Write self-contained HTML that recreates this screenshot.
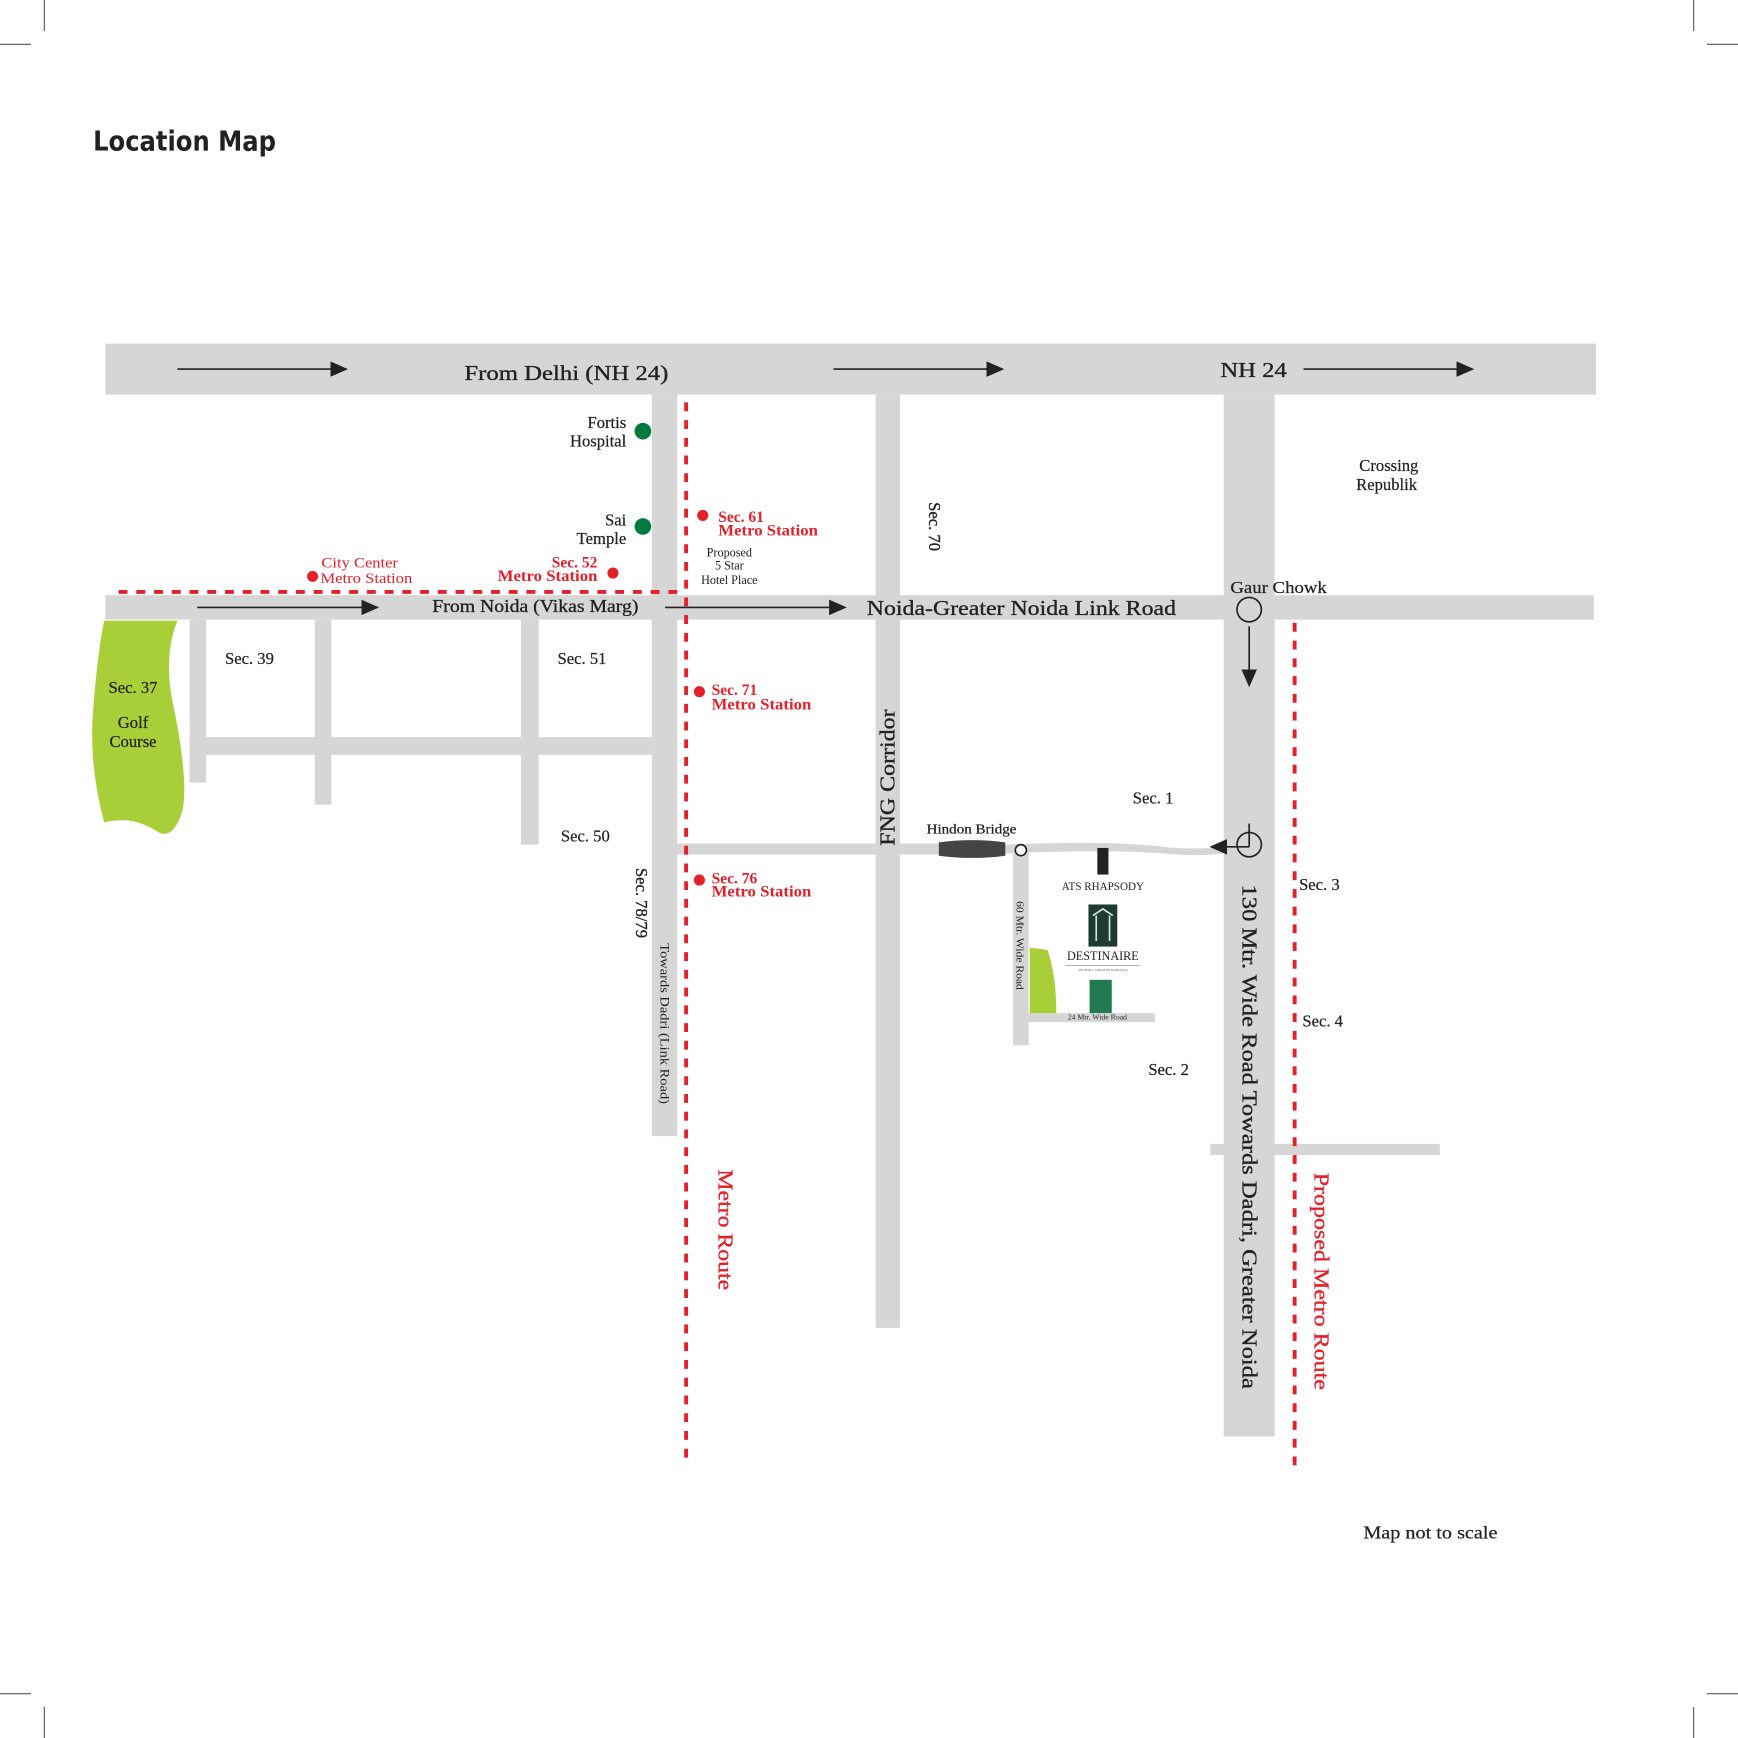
<!DOCTYPE html>
<html><head><meta charset="utf-8"><style>html,body{margin:0;padding:0;background:#fff}svg{display:block}</style></head>
<body>
<svg width="1738" height="1738" viewBox="0 0 1568 1568" xmlns="http://www.w3.org/2000/svg" font-family="'Liberation Serif', serif">
<defs><marker id="ah" markerWidth="16" markerHeight="14" refX="14" refY="7" orient="auto" markerUnits="userSpaceOnUse"><path d="M0,0 L16,7 L0,14 Z" fill="#222"/></marker></defs>
<g stroke="#555" stroke-width="1">
<line x1="40" y1="0" x2="40" y2="28"/><line x1="0" y1="40" x2="28" y2="40"/>
<line x1="1528" y1="0" x2="1528" y2="28"/><line x1="1540" y1="40" x2="1568" y2="40"/>
<line x1="40" y1="1540" x2="40" y2="1568"/><line x1="0" y1="1528" x2="28" y2="1528"/>
<line x1="1528" y1="1540" x2="1528" y2="1568"/><line x1="1540" y1="1528" x2="1568" y2="1528"/>
</g>
<text x="84" y="136" font-family="'DejaVu Sans','Liberation Sans',sans-serif" font-weight="bold" font-size="25" fill="#222" textLength="165" lengthAdjust="spacingAndGlyphs">Location Map</text>
<g fill="#d6d6d6">
<rect x="95" y="310" width="1345" height="46"/>
<rect x="95" y="537" width="1343" height="22"/>
<rect x="588" y="356" width="23" height="669"/>
<rect x="790" y="356" width="22" height="842"/>
<rect x="1104" y="356" width="46" height="940"/>
<rect x="171" y="559" width="15" height="147"/>
<rect x="284" y="559" width="15" height="167"/>
<rect x="470" y="559" width="16" height="203"/>
<rect x="171" y="665" width="417" height="16"/>
<rect x="611" y="761" width="236" height="10"/>
<rect x="914" y="767" width="14" height="176"/>
<rect x="928" y="914" width="114" height="8"/>
<rect x="1092" y="1032" width="207" height="10"/>
</g>
<path d="M907,762 Q1000,758 1050,764 Q1080,767 1104,764 L1104,770 Q1080,773 1050,770 Q1000,766 907,770 Z" fill="#d6d6d6"/>
<path d="M847,760 Q877,756 907,760 L907,772 Q877,776 847,772 Z" fill="#444"/>
<circle cx="921" cy="767" r="5" fill="#fff" stroke="#222" stroke-width="1.5"/>
<path d="M94,560 L160,560 Q148,590 155,630 Q170,700 165,730 Q158,755 145,752 Q130,742 115,740 Q100,740 94,742 Q80,690 84,640 Q88,590 94,560 Z" fill="#a9cf38"/>
<path d="M929,855 L945,857 Q953,880 953,914 L929,914 Z" fill="#a9cf38"/>
<g stroke="#e5202a" stroke-width="3.5" stroke-dasharray="8,8" fill="none">
<line x1="107" y1="534" x2="619" y2="534"/>
<line x1="619" y1="363" x2="619" y2="1322"/>
<line x1="1168" y1="562" x2="1168" y2="1322"/>
</g>
<g stroke="#222" stroke-width="1.5" marker-end="url(#ah)">
<line x1="160" y1="333" x2="312" y2="333"/>
<line x1="752" y1="333" x2="904" y2="333"/>
<line x1="1176" y1="333" x2="1328" y2="333"/>
<line x1="178" y1="548" x2="340" y2="548"/>
<line x1="600" y1="548" x2="762" y2="548"/>
<line x1="1127" y1="565" x2="1127" y2="618"/>
<line x1="1127" y1="764" x2="1093" y2="764"/>
</g>
<circle cx="1127" cy="550" r="11" fill="none" stroke="#222" stroke-width="1.5"/>
<circle cx="1127" cy="762" r="11" fill="none" stroke="#222" stroke-width="1.5"/>
<line x1="1127" y1="743" x2="1127" y2="764" stroke="#222" stroke-width="1.5"/>
<g fill="#007a3d"><circle cx="580" cy="389" r="7.5"/><circle cx="580" cy="475" r="7.5"/></g>
<g fill="#e5202a"><circle cx="282" cy="520" r="5"/><circle cx="553" cy="517" r="5"/><circle cx="634" cy="465" r="5"/><circle cx="631" cy="624" r="5"/><circle cx="631" cy="794" r="5"/></g>
<g fill="#222" font-size="19" stroke="#222" stroke-width="0.3">
<text x="419" y="343" textLength="184" lengthAdjust="spacingAndGlyphs">From Delhi (NH 24)</text>
<text x="1101" y="340" textLength="60" lengthAdjust="spacingAndGlyphs">NH 24</text>
<text x="390" y="552" font-size="16" textLength="186" lengthAdjust="spacingAndGlyphs">From Noida (Vikas Marg)</text>
<text x="782" y="555" textLength="279" lengthAdjust="spacingAndGlyphs">Noida-Greater Noida Link Road</text>
</g>
<g fill="#222" font-size="15" stroke="#222" stroke-width="0.2">
<text x="565" y="386" text-anchor="end">Fortis</text><text x="565" y="403" text-anchor="end">Hospital</text>
<text x="565" y="474" text-anchor="end">Sai</text><text x="565" y="491" text-anchor="end">Temple</text>
<text x="1253" y="425" text-anchor="middle">Crossing</text><text x="1251" y="442" text-anchor="middle">Republik</text>
<text x="1110" y="535" textLength="87" lengthAdjust="spacingAndGlyphs">Gaur Chowk</text>
<text x="203" y="599">Sec. 39</text>
<text x="503" y="599">Sec. 51</text>
<text x="506" y="759">Sec. 50</text>
<text x="120" y="625" text-anchor="middle">Sec. 37</text>
<text x="120" y="657" text-anchor="middle">Golf</text>
<text x="120" y="674" text-anchor="middle">Course</text>
<text x="1022" y="725">Sec. 1</text>
<text x="1036" y="970">Sec. 2</text>
<text x="1172" y="803">Sec. 3</text>
<text x="1175" y="926">Sec. 4</text>
<text x="1230" y="1388" font-size="16" textLength="121" lengthAdjust="spacingAndGlyphs">Map not to scale</text>
<text x="836" y="752" font-size="12" textLength="81" lengthAdjust="spacingAndGlyphs">Hindon Bridge</text>
</g>
<g fill="#222" font-size="11" text-anchor="middle">
<text x="658" y="502">Proposed</text><text x="658" y="514">5 Star</text><text x="658" y="527">Hotel Place</text>
</g>
<g fill="#e5202a" font-size="14" font-weight="bold">
<text x="648" y="471">Sec. 61</text><text x="648" y="483" textLength="90" lengthAdjust="spacingAndGlyphs">Metro Station</text>
<text x="642" y="627">Sec. 71</text><text x="642" y="640" textLength="90" lengthAdjust="spacingAndGlyphs">Metro Station</text>
<text x="642" y="797">Sec. 76</text><text x="642" y="809" textLength="90" lengthAdjust="spacingAndGlyphs">Metro Station</text>
<text x="539" y="512" text-anchor="end">Sec. 52</text><text x="449" y="524" textLength="90" lengthAdjust="spacingAndGlyphs">Metro Station</text>
</g>
<g fill="#e5202a" font-size="13">
<text x="290" y="512" textLength="69" lengthAdjust="spacingAndGlyphs">City Center</text><text x="289" y="526" textLength="83" lengthAdjust="spacingAndGlyphs">Metro Station</text>
</g>
<g fill="#222" stroke="#222" stroke-width="0.3">
<text transform="translate(838,453) rotate(90)" font-size="15">Sec. 70</text>
<text transform="translate(807,763) rotate(-90)" font-size="19" textLength="123" lengthAdjust="spacingAndGlyphs">FNG Corridor</text>
<text transform="translate(574,783) rotate(90)" font-size="15">Sec. 78/79</text>
<text transform="translate(596,851) rotate(90)" font-size="11" stroke-width="0" textLength="145" lengthAdjust="spacingAndGlyphs">Towards Dadri (Link Road)</text>
<text transform="translate(917,813) rotate(90)" font-size="9" stroke-width="0" textLength="80" lengthAdjust="spacingAndGlyphs">60 Mtr. Wide Road</text>
<text transform="translate(1121,798) rotate(90)" font-size="19" textLength="455" lengthAdjust="spacingAndGlyphs">130 Mtr. Wide Road   Towards Dadri, Greater Noida</text>
<text x="990" y="920" font-size="7" stroke-width="0" text-anchor="middle">24 Mtr. Wide Road</text>
</g>
<g fill="#e5202a" font-size="19" stroke="#e5202a" stroke-width="0.3">
<text transform="translate(648,1055) rotate(90)" textLength="109" lengthAdjust="spacingAndGlyphs">Metro Route</text>
<text transform="translate(1186,1058) rotate(90)" textLength="196" lengthAdjust="spacingAndGlyphs">Proposed Metro Route</text>
</g>
<rect x="990" y="765" width="10" height="24" fill="#222"/>
<text x="995" y="803" font-size="10" text-anchor="middle" fill="#222">ATS RHAPSODY</text>
<rect x="982" y="816" width="26" height="38" fill="#1d3b33"/>
<path d="M986,826 L995,820 L1004,826 M989,826 L989,849 M1001,826 L1001,849" stroke="#cfe8d8" stroke-width="1.5" fill="none"/>
<text x="995" y="866" font-size="11" text-anchor="middle" fill="#222">DESTINAIRE</text>
<line x1="961" y1="871" x2="1029" y2="871" stroke="#888" stroke-width="0.5"/>
<text x="995" y="876" font-size="3" text-anchor="middle" fill="#555">SECTOR 1, GREATER NOIDA (W)</text>
<rect x="983" y="884" width="20" height="30" fill="#1f7a50"/>
</svg>
</body></html>
